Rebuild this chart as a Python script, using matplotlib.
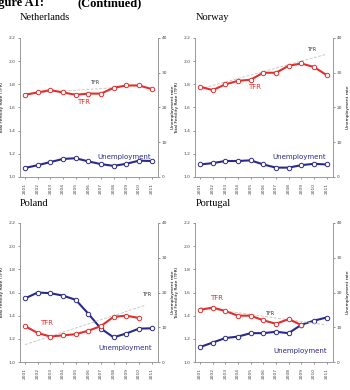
import matplotlib
matplotlib.use("Agg")
import matplotlib.pyplot as plt

years = [2001, 2002, 2003, 2004, 2005, 2006, 2007, 2008, 2009, 2010, 2011]
year_labels = [str(y) for y in years]

countries = ["Netherlands", "Norway", "Poland", "Portugal"]

nl_tfr = [1.71, 1.73, 1.75, 1.73, 1.71, 1.72, 1.72, 1.77, 1.79, 1.79, 1.76]
nl_unemp = [2.6, 3.4, 4.3, 5.2, 5.4, 4.5, 3.7, 3.2, 3.8, 4.7, 4.6]
no_tfr = [1.78, 1.75, 1.80, 1.83, 1.84, 1.90, 1.90, 1.96, 1.98, 1.95, 1.88]
no_unemp = [3.6, 4.0, 4.6, 4.6, 4.8, 3.6, 2.7, 2.7, 3.4, 3.8, 3.6]
pl_tfr = [1.31, 1.25, 1.22, 1.23, 1.24, 1.27, 1.31, 1.39, 1.40, 1.38]
pl_unemp = [18.3, 20.0, 19.8, 19.1, 17.9, 13.9, 9.6, 7.1, 8.2, 9.6, 9.7]
pt_tfr = [1.45, 1.47, 1.44, 1.40, 1.40, 1.36, 1.33, 1.37, 1.32]
pt_unemp = [4.3, 5.6, 6.9, 7.3, 8.3, 8.3, 8.7, 8.3, 10.7, 11.9, 12.8]

# trend lines: (start year, end year), (start value, end value)
nl_trend_x = [2001, 2008]
nl_trend_y = [1.72, 1.77]
no_trend_x = [2001, 2011]
no_trend_y = [1.76, 2.06]
pl_trend_x = [2001, 2010.5]
pl_trend_y = [1.15, 1.49]
pt_trend_x = [2001, 2011]
pt_trend_y = [1.47, 1.32]

tfr_data = [nl_tfr, no_tfr, pl_tfr, pt_tfr]
unemp_data = [nl_unemp, no_unemp, pl_unemp, pt_unemp]
trend_x = [nl_trend_x, no_trend_x, pl_trend_x, pt_trend_x]
trend_y = [nl_trend_y, no_trend_y, pl_trend_y, pt_trend_y]

# label positions (x year, y value)
tfr_label_pos = [(2005.6, 1.645), (2005.3, 1.775), (2002.7, 1.34), (2002.3, 1.55)]
unemp_label_pos = [(2008.8, 5.8), (2008.8, 5.8), (2008.9, 4.1), (2008.9, 3.2)]
trend_label_pos = [(2006.5, 1.82), (2009.8, 2.10), (2010.6, 1.58), (2006.5, 1.42)]

RED = "#E0302E"
NAVY = "#2A2A8A"
GREY = "#C9C9C9"

fig = plt.figure(figsize=(3.5, 3.9), dpi=100)
W, H = 350, 390

panels = [(20, 38), (195, 38), (20, 223), (195, 223)]
pw, ph = 137.5, 139

fig.text(44 / W, 1 - 3 / H, "Figure A1:", fontsize=9, fontweight="bold",
         family="Liberation Serif", ha="right", va="center")
fig.text(78 / W, 1 - 3 / H, "(Continued)", fontsize=9, fontweight="bold",
         family="Liberation Serif", ha="left", va="center")

title_pos = [(20, 17), (196, 17), (20, 204), (196, 204)]

for i, name in enumerate(countries):
    x0, y0 = panels[i]
    ax = fig.add_axes([x0 / W, 1 - (y0 + ph) / H, pw / W, ph / H])
    ax2 = ax.twinx()
    tfr = tfr_data[i]
    un = unemp_data[i]
    ax.plot(trend_x[i], trend_y[i], color=GREY, lw=0.7, ls=(0, (3, 1.5)), zorder=1)
    ax.plot(years[:len(tfr)], tfr, color=RED, lw=1.5, marker="o", ms=3.2,
            mfc="white", mec=RED, mew=0.7, zorder=3)
    ax2.plot(years[:len(un)], un, color=NAVY, lw=1.5, marker="o", ms=3.2,
             mfc="white", mec=NAVY, mew=0.7, zorder=3)
    ax.set_xlim(2000.6, 2011.47)
    ax.set_ylim(1.0, 2.2)
    ax2.set_ylim(0, 40)
    ax.set_yticks([1.0, 1.2, 1.4, 1.6, 1.8, 2.0, 2.2])
    ax.set_yticklabels([f"{v:.1f}" for v in [1.0, 1.2, 1.4, 1.6, 1.8, 2.0, 2.2]])
    ax2.set_yticks([0, 10, 20, 30, 40])
    ax.set_xticks(years)
    ax.set_xticklabels(year_labels, rotation=90)
    for a in (ax, ax2):
        a.tick_params(labelsize=3.2, length=1.5, width=0.4, pad=1.5, colors="#444444")
        a.spines["top"].set_visible(False)
        for s in ("left", "right", "bottom"):
            a.spines[s].set_color("#9a9a9a")
            a.spines[s].set_linewidth(0.6)
    ax.tick_params(axis="x", pad=3)
    ax.set_ylabel("Total Fertility Rate (TFR)", fontsize=3.2)
    ax.yaxis.set_label_coords(-0.115, 0.5)
    ax2.set_ylabel("Unemployment rate", fontsize=3.2)
    ax2.yaxis.set_label_coords(1.1, 0.5)
    ax.set_zorder(ax2.get_zorder() + 1)
    ax.patch.set_visible(False)
    ax.text(*tfr_label_pos[i], "TFR", color=RED, fontsize=5, ha="center", va="center")
    ax.text(*trend_label_pos[i], "TFR", color="#333333", fontsize=3.5, ha="center", va="center")
    ax2.text(*unemp_label_pos[i], "Unemployment", color=NAVY, fontsize=5, ha="center", va="center")
    tx, ty = title_pos[i]
    fig.text(tx / W, 1 - ty / H, name, fontsize=7.5, family="Liberation Serif",
             ha="left", va="center")

fig.savefig("out.png", dpi=100)
